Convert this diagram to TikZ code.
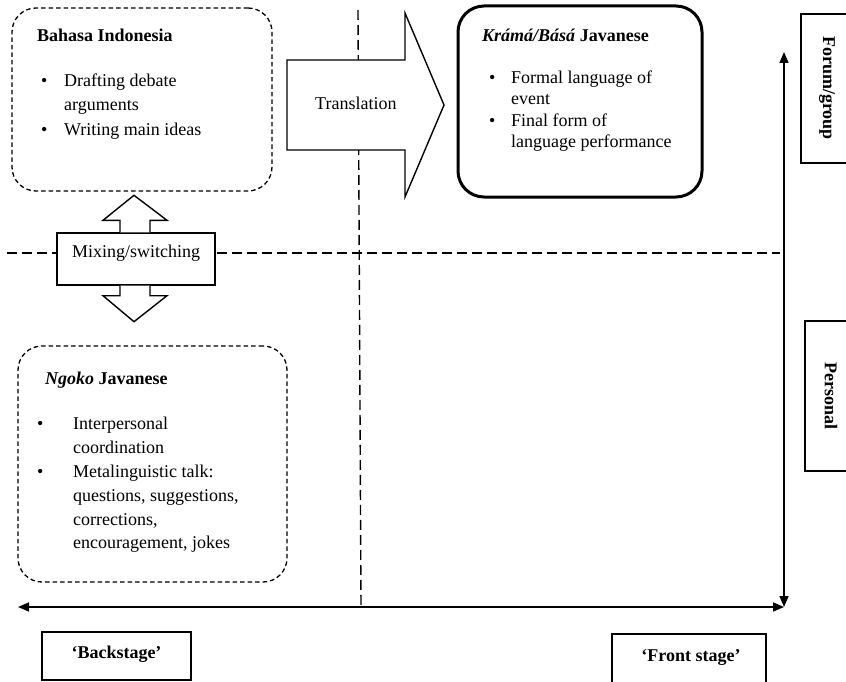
\documentclass[tikz,border=0pt]{standalone}
\usepackage{fontspec}
\setmainfont{Liberation Serif}
\usetikzlibrary{arrows.meta,calc}
\begin{document}
\begin{tikzpicture}[x=1pt,y=-1pt,
  txt/.style={font=\fontsize{18}{22}\selectfont, inner sep=0pt, anchor=base west},
  ttl/.style={txt, font=\fontsize{18}{22}\selectfont\bfseries},
  ctr/.style={font=\fontsize{18}{22}\selectfont\bfseries, inner sep=0pt, anchor=base},
  side/.style={font=\fontsize{18}{22}\selectfont\bfseries, inner sep=0pt, rotate=-90},
  dbox/.style={draw, line width=1.3pt, dash pattern=on 4.5pt off 3pt, rounded corners=24pt, inner sep=0pt},
  kbox/.style={draw, line width=3pt, rounded corners=26pt, inner sep=0pt},
  pbox/.style={draw, line width=1.4pt, fill=white, inner sep=0pt},
  blk/.style={draw, line width=1.4pt, fill=white, line join=miter},
  divider/.style={line width=1.4pt, dash pattern=on 10pt off 5pt},
  axis/.style={line width=1.6pt, {Triangle[length=11pt,width=9pt]}-{Triangle[length=11pt,width=9pt]}}
]
\useasboundingbox (0,0) rectangle (846,682);

% dashed dividers
\coordinate (vt) at (358,10);
\coordinate (vb) at (361,607);
\coordinate (hl) at (7,253);
\coordinate (hr) at (780,253);
\draw[divider] (vt) -- (vb);
\draw[divider] (hl) -- (hr);

% axes
\coordinate (corner) at (784,607);
\coordinate (axl) at (18,607);
\coordinate (axt) at (784,52);
\draw[axis] (axl) -- (corner);
\draw[axis] (axt) -- (corner);

% Bahasa Indonesia box
\node[dbox, minimum width=260pt, minimum height=183pt] (bahasa) at (142,99.5) {};
\node[ttl] (bahasaT) at (37,42) {Bahasa Indonesia};
\node[txt] (bb1) at (41,87) {\textbullet};
\node[txt] (b1) at (64,87) {Drafting debate};
\node[txt] (b1b) at (64,111) {arguments};
\node[txt] (bb2) at (41,136) {\textbullet};
\node[txt] (b2) at (64,136) {Writing main ideas};

% Krama box
\node[kbox, minimum width=244pt, minimum height=191pt] (krama) at (580,101.5) {};
\node[ttl] (kramaT) at (482,42) {\textit{Krámá/Básá} Javanese};
\node[txt] (kb1) at (489,84) {\textbullet};
\node[txt] (k1) at (511,84) {Formal language of};
\node[txt] (k1b) at (511,105) {event};
\node[txt] (kb2) at (489,127) {\textbullet};
\node[txt] (k2) at (511,127) {Final form of};
\node[txt] (k2b) at (511,148) {language performance};

% Ngoko box
\node[dbox, minimum width=269pt, minimum height=236pt] (ngoko) at (152.5,464) {};
\node[ttl] (ngokoT) at (45,384) {\textit{Ngoko} Javanese};
\node[txt] (nb1) at (37,429) {\textbullet};
\node[txt] (n1) at (73,429) {Interpersonal};
\node[txt] (n1b) at (73,453) {coordination};
\node[txt] (nb2) at (37,477) {\textbullet};
\node[txt] (n2) at (73,477) {Metalinguistic talk:};
\node[txt] (n2b) at (73,501) {questions, suggestions,};
\node[txt] (n2c) at (73,525) {corrections,};
\node[txt] (n2d) at (73,548) {encouragement, jokes};

% Translation block arrow
\coordinate (tr) at (287,60);
\draw[blk] (tr) -- ++(118,0) -- ++(0,-47) -- (444,105) -- (405,197) -- ++(0,-47) -- (287,150) -- cycle;
\node[txt] (trans) at (315,110) {Translation};

% Mixing/switching box with up/down arrows
\node[pbox, minimum width=158pt, minimum height=52pt] (mix) at (136,259) {};
\draw[blk] ($(mix.north)+(-16,0)$) -- ++(0,-12) -- ++(-17,0) -- ($(mix.north)+(-2,-37)$) -- ($(mix.north)+(31,-12)$) -- ++(-17,0) -- ($(mix.north)+(14,0)$);
\draw[blk] ($(mix.south)+(-16,0)$) -- ++(0,10) -- ++(-17,0) -- ($(mix.south)+(-2,36)$) -- ($(mix.south)+(31,10)$) -- ++(-17,0) -- ($(mix.south)+(14,0)$);
\node[txt] (mixT) at (72,257) {Mixing/switching};

% side labels
\node[pbox, minimum width=70pt, minimum height=149pt] (forum) at (836,88.5) {};
\node[side] (forumT) at (827,88) {Forum/group};
\node[pbox, minimum width=66pt, minimum height=150pt] (personal) at (838,396) {};
\node[side] (personalT) at (831,396) {Personal};

% bottom labels
\node[pbox, minimum width=149pt, minimum height=48pt] (back) at (116.5,656) {};
\node[ctr] (backT) at (116.5,658) {‘Backstage’};
\node[pbox, minimum width=154pt, minimum height=66pt] (front) at (689,667) {};
\node[ctr] (frontT) at (691,661) {‘Front stage’};
\end{tikzpicture}
\end{document}
